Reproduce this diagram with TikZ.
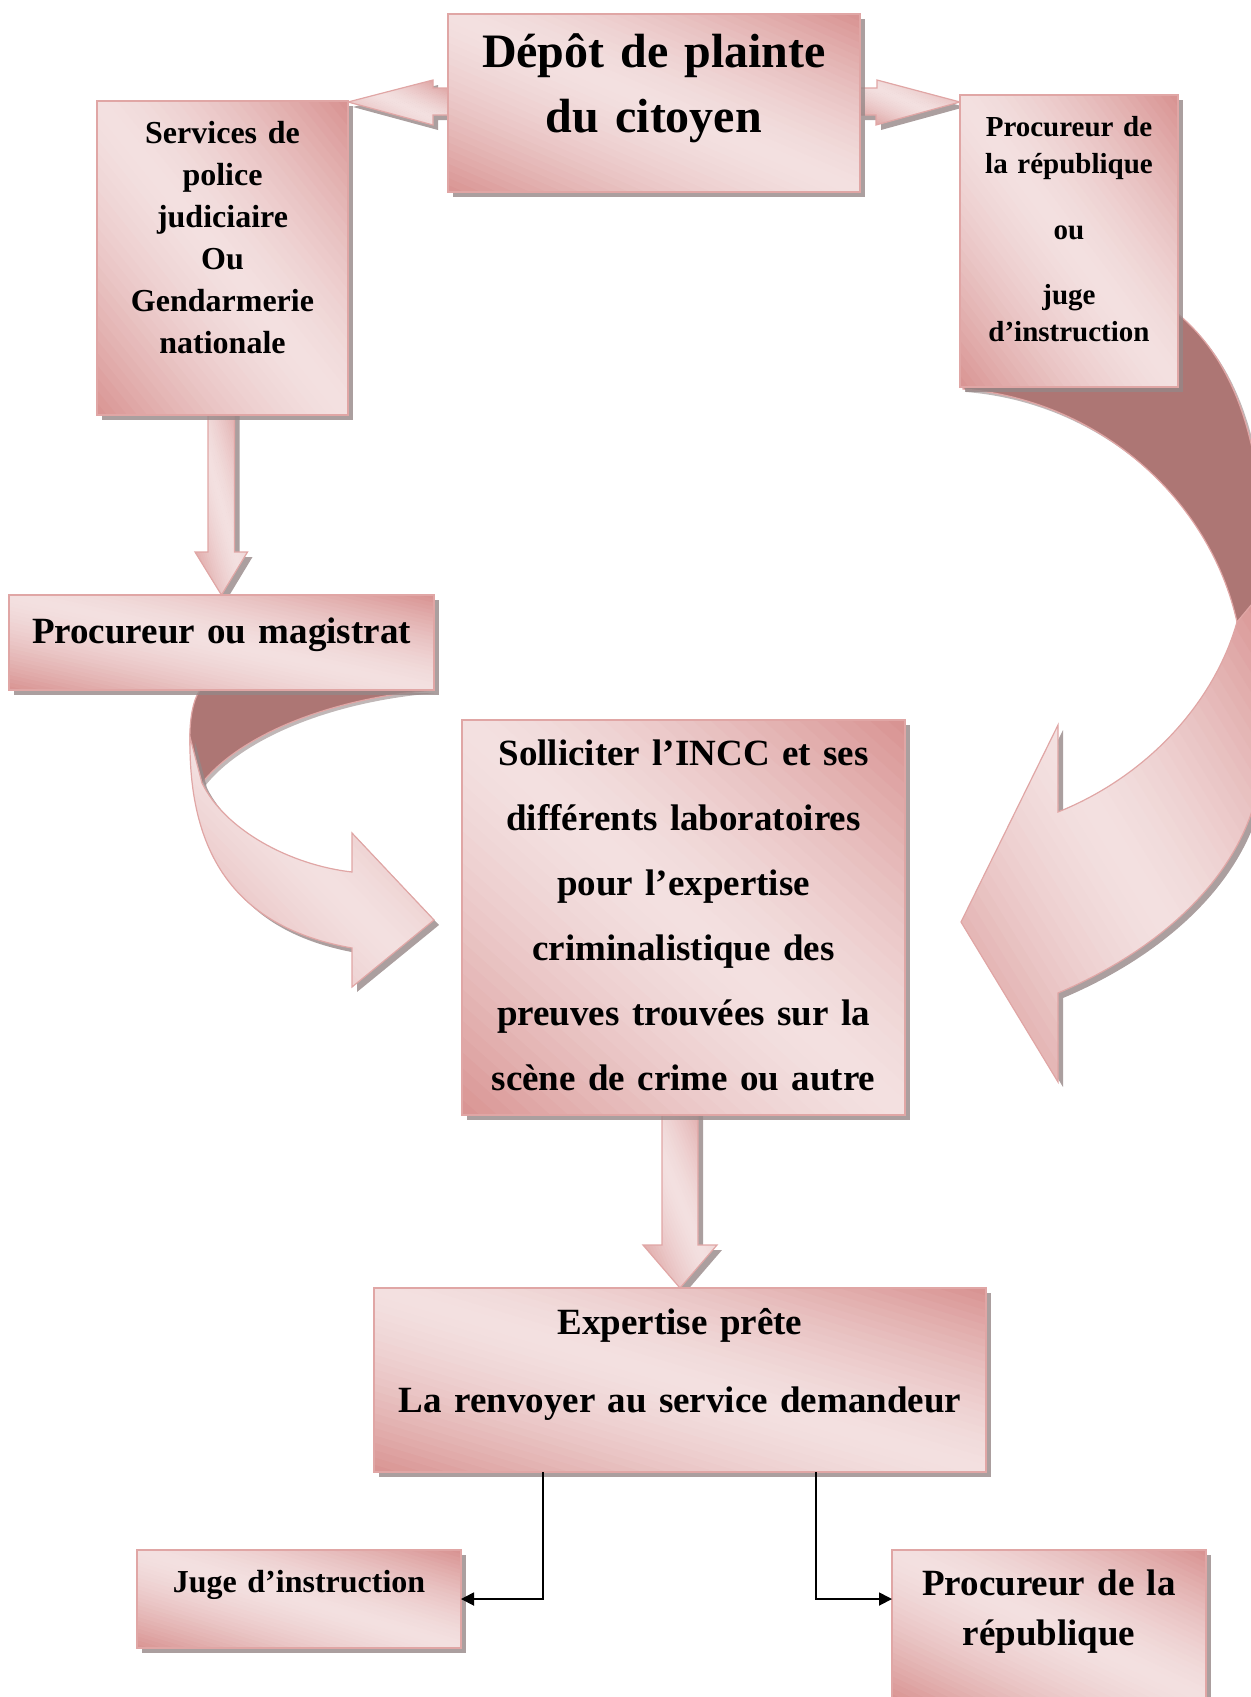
\documentclass[tikz,border=0pt]{standalone}
\usepackage{fontspec}
\setmainfont{Liberation Serif}
\usetikzlibrary{arrows.meta,shadows,backgrounds,calc}
\definecolor{rosedark}{RGB}{216,146,145}
\definecolor{roselight}{RGB}{243,224,224}
\definecolor{roseline}{RGB}{224,166,165}
\definecolor{ribbonback}{RGB}{173,118,116}
\definecolor{shadowgrey}{RGB}{150,135,135}

\def\bb{path picture bounding box}
\tikzset{
  rosegrad/.style={path picture={
    % bands along the top-left / bottom-right diagonal
    \foreach \c in {0,0.04,...,1.96} {
      \pgfmathsetmacro\p{100*(abs(\c+0.025-1))^1.5}
      \pgfmathsetmacro\ca{\c/2}
      \pgfmathsetmacro\cb{(\c+0.05)/2}
      \fill[rosedark!\p!roselight]
        ($(\bb.south west)!\ca!(\bb.north east) + 1.2*(\bb.north west) - 1.2*(\bb.south east)$)
        -- ($(\bb.south west)!\ca!(\bb.north east) + 1.2*(\bb.south east) - 1.2*(\bb.north west)$)
        -- ($(\bb.south west)!\cb!(\bb.north east) + 1.2*(\bb.south east) - 1.2*(\bb.north west)$)
        -- ($(\bb.south west)!\cb!(\bb.north east) + 1.2*(\bb.north west) - 1.2*(\bb.south east)$)
        -- cycle;
    }}}
}

\begin{document}
\begin{tikzpicture}[x=1pt,y=-1pt,
  rosefill/.style={draw=roseline, line width=1.2pt, rosegrad,
    drop shadow={shadow xshift=5pt, shadow yshift=-5pt, fill=shadowgrey, opacity=.8}},
  stepbox/.style={rosefill, rectangle, inner sep=0pt, outer sep=0pt, align=center, anchor=north west},
  ribbon/.style={draw=roseline, line width=1.2pt, fill=ribbonback,
    drop shadow={shadow xshift=3pt, shadow yshift=-3pt, fill=shadowgrey, opacity=.6}},
  conn/.style={line width=1.8pt, -{Triangle[length=13pt,width=13pt]}}]
\useasboundingbox (0,0) rectangle (1250,1697);

% boxes
\node[stepbox, text width=412pt, text height=53pt, text depth=125pt,
  font=\fontsize{48}{65}\selectfont\bfseries] (depot) at (448,14) {Dépôt de plainte\\du citoyen};
\node[stepbox, text width=251pt, text height=42pt, text depth=272pt,
  font=\fontsize{32}{42}\selectfont\bfseries] (police) at (97,101)
  {Services de\\police\\judiciaire\\Ou\\Gendarmerie\\nationale};
\node[stepbox, text width=218pt, text height=41pt, text depth=251pt,
  font=\fontsize{29}{37}\selectfont\bfseries] (procrep) at (960,95)
  {Procureur de\\la république\\[29pt]ou\\[28pt]juge\\d’instruction};
\node[stepbox, text width=425pt, text height=48pt, text depth=47pt,
  font=\fontsize{37}{44}\selectfont\bfseries] (procmag) at (9,595) {Procureur ou magistrat};
\node[stepbox, text width=443pt, text height=45pt, text depth=350pt,
  font=\fontsize{37}{65}\selectfont\bfseries] (incc) at (462,720)
  {Solliciter l’INCC et ses\\différents laboratoires\\pour l’expertise\\criminalistique des\\preuves trouvées sur la\\scène de crime ou autre};
\node[stepbox, text width=612pt, text height=46pt, text depth=138pt,
  font=\fontsize{37}{78}\selectfont\bfseries] (expert) at (374,1288)
  {Expertise prête\\La renvoyer au service demandeur};
\node[stepbox, text width=324pt, text height=42pt, text depth=56pt,
  font=\fontsize{32}{40}\selectfont\bfseries] (juge) at (137,1550) {Juge d’instruction};
\node[stepbox, text width=314pt, text height=45pt, text depth=105pt,
  font=\fontsize{37}{50}\selectfont\bfseries] (procbas) at (892,1550) {Procureur de la\\république};

\begin{scope}[on background layer]
  % block arrows
  \path[rosefill] ([yshift=-74pt]depot.north west) -- ++(-15,0) -- ++(0,-8)
    -- ([yshift=-1pt]police.north east) -- ++(85,23) -- ++(0,-10)
    -- ([yshift=-101pt]depot.north west) -- cycle;
  \path[rosefill] ([yshift=-74pt]depot.north east) -- ++(17,0) -- ++(0,-8)
    -- ([yshift=-7pt]procrep.north west) -- ++(-84,23) -- ++(0,-10)
    -- ([yshift=-101pt]depot.north east) -- cycle;
  \path[rosefill] ([xshift=111pt,yshift=5pt]police.south west) -- ++(0,142) -- ++(-13,0)
    -- (procmag.north) -- ++(26,-43) -- ++(-13,0) -- ++(0,-142) -- cycle;
  \path[rosefill] ([xshift=200pt,yshift=5pt]incc.south west) -- ++(0,135) -- ++(-19,0)
    -- (expert.north) -- ++(37,-43) -- ++(-19,0) -- ++(0,-135) -- cycle;
  % curved arrow under procmag
  \begin{scope}[shift={(procmag.south east)}]
    \path[ribbon] (-234,0) -- (0,0) .. controls (-104,8) and (-194,45) .. (-232,93)
      -- (-244,55) .. controls (-245,30) and (-241,10) .. (-234,0) -- cycle;
    \path[rosefill] (-244,47) .. controls (-246,180) and (-184,240) .. (-82,258)
      -- (-82,297) -- (0,230) -- (-82,143) -- (-82,182)
      .. controls (-144,175) and (-209,140) .. (-232,93) -- cycle;
  \end{scope}
  % curved arrow under procrep
  \begin{scope}[shift={(procrep.south east)}]
    \path[ribbon] (0,-73) .. controls (67,-17) and (90,83) .. (84,213) -- (59,235)
      .. controls (32,113) and (-78,13) .. (-215,2) -- (-215,-7) -- (-8,-7) -- (-8,-73) -- cycle;
    \path[rosefill] (84,205) -- (84,373) .. controls (77,483) and (-18,563) .. (-120,606)
      -- (-120,695) -- (-217,535) -- (-120,338) -- (-120,425)
      .. controls (-28,388) and (37,313) .. (59,235) -- cycle;
  \end{scope}
\end{scope}

\draw[conn] ([xshift=169pt]expert.south west) |- (juge.east);
\draw[conn] ([xshift=442pt]expert.south west) |- ([yshift=-49pt]procbas.north west);
\end{tikzpicture}
\end{document}
